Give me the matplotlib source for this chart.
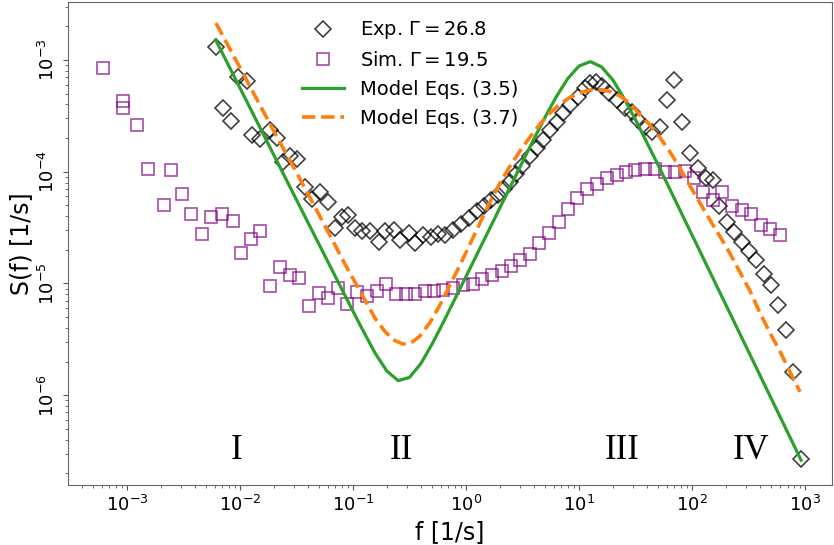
import matplotlib
matplotlib.use("Agg")
import matplotlib.pyplot as plt

# Experimental data (Gamma = 26.8)
exp_f = [6.10e-3, 7.11e-3, 8.32e-3, 9.66e-3, 1.16e-2, 1.29e-2, 1.51e-2, 1.84e-2, 2.11e-2, 2.38e-2,
         2.77e-2, 3.23e-2, 3.80e-2, 4.34e-2, 5.11e-2, 5.98e-2, 7.00e-2, 8.07e-2, 9.12e-2, 0.105,
         0.120, 0.141, 0.169, 0.192, 0.229, 0.261, 0.311, 0.357, 0.416, 0.495,
         0.565, 0.652, 0.767, 0.904, 1.06, 1.25, 1.43, 1.68, 1.92, 2.17,
         2.45, 2.77, 3.13, 3.68, 4.23, 4.83, 5.53, 6.35, 7.26, 8.32,
         9.86, 11.3, 12.5, 14.1, 16.0, 18.4, 21.7, 25.5, 29.4, 33.5,
         38.4, 44.0, 52.6, 59.7, 69.3, 81.6, 95.9, 114, 132, 152,
         173, 204, 235, 275, 319, 371, 430, 504, 581, 675,
         787, 918]
exp_S = [1.30e-3, 3.70e-4, 2.84e-4, 7.00e-4, 6.44e-4, 2.15e-4, 1.98e-4, 2.36e-4, 1.99e-4, 1.23e-4,
         1.37e-4, 1.30e-4, 7.34e-5, 5.73e-5, 6.58e-5, 5.30e-5, 3.16e-5, 3.95e-5, 4.09e-5, 3.16e-5,
         2.94e-5, 2.94e-5, 2.37e-5, 2.92e-5, 3.01e-5, 2.45e-5, 2.83e-5, 2.30e-5, 2.71e-5, 2.60e-5,
         2.77e-5, 2.71e-5, 3.01e-5, 3.40e-5, 3.83e-5, 4.45e-5, 4.88e-5, 5.58e-5, 6.18e-5, 7.00e-5,
         8.09e-5, 9.53e-5, 1.12e-4, 1.37e-4, 1.62e-4, 1.92e-4, 2.36e-4, 2.80e-4, 3.33e-4, 3.95e-4,
         4.67e-4, 5.58e-4, 6.22e-4, 6.35e-4, 5.85e-4, 5.07e-4, 4.38e-4, 3.72e-4, 3.42e-4, 2.90e-4,
         2.53e-4, 2.28e-4, 2.53e-4, 4.38e-4, 6.62e-4, 2.80e-4, 1.46e-4, 1.07e-4, 8.73e-5, 8.43e-5,
         4.88e-5, 3.51e-5, 2.90e-5, 2.36e-5, 1.95e-5, 1.62e-5, 1.21e-5, 9.62e-6, 6.41e-6, 3.80e-6,
         1.62e-6, 2.71e-7]

# Simulation data (Gamma = 19.5)
sim_f = [6.17e-4, 9.27e-4, 9.27e-4, 1.23e-3, 1.53e-3, 2.14e-3, 2.44e-3, 3.07e-3, 3.67e-3, 4.58e-3,
         5.51e-3, 6.97e-3, 8.61e-3, 1.03e-2, 1.25e-2, 1.51e-2, 1.84e-2, 2.24e-2, 2.77e-2, 3.33e-2,
         4.08e-2, 5.00e-2, 6.04e-2, 7.30e-2, 8.91e-2, 0.108, 0.132, 0.162, 0.196, 0.239,
         0.292, 0.352, 0.430, 0.521, 0.630, 0.773, 0.946, 1.15, 1.39, 1.71,
         2.07, 2.50, 3.03, 3.71, 4.47, 5.45, 6.62, 8.00, 9.70, 11.8,
         14.4, 17.6, 21.6, 26.1, 31.6, 38.4, 47.1, 57.7, 70.8, 86.1,
         104, 126, 152, 186, 228, 275, 335, 406, 493, 601]
sim_S = [8.43e-4, 4.30e-4, 3.70e-4, 2.64e-4, 1.06e-4, 5.04e-5, 1.03e-4, 6.28e-5, 4.16e-5, 2.75e-5,
         3.93e-5, 4.18e-5, 3.62e-5, 1.88e-5, 2.51e-5, 2.96e-5, 9.53e-6, 1.41e-5, 1.19e-5, 1.11e-5,
         6.31e-6, 8.15e-6, 7.36e-6, 9.04e-6, 6.54e-6, 8.38e-6, 7.76e-6, 8.55e-6, 9.82e-6, 8.04e-6,
         8.04e-6, 8.04e-6, 8.55e-6, 8.63e-6, 8.73e-6, 9.10e-6, 9.58e-6, 9.88e-6, 1.09e-5, 1.19e-5,
         1.29e-5, 1.43e-5, 1.62e-5, 1.85e-5, 2.28e-5, 2.83e-5, 3.53e-5, 4.63e-5, 5.87e-5, 7.00e-5,
         7.76e-5, 8.73e-5, 9.25e-5, 1.00e-4, 1.03e-4, 1.06e-4, 1.05e-4, 9.94e-5, 9.90e-5, 1.01e-4,
         8.73e-5, 6.62e-5, 5.55e-5, 6.62e-5, 4.90e-5, 4.51e-5, 4.14e-5, 3.31e-5, 3.05e-5, 2.74e-5]

# Model Eqs. (3.5)
m35_f = [6.10e-3, 3.16e-2, 0.100, 0.126, 0.158, 0.200, 0.251, 0.316, 0.398, 0.501,
         0.631, 1.00, 3.16, 3.98, 5.01, 6.31, 7.94, 10.0, 12.6, 15.8,
         20.0, 25.1, 31.6, 50.1, 923]
m35_S = [1.51e-3, 5.61e-5, 5.64e-6, 3.60e-6, 2.35e-6, 1.64e-6, 1.35e-6, 1.44e-6, 1.91e-6, 2.86e-6,
         4.50e-6, 1.15e-5, 1.22e-4, 1.95e-4, 3.07e-4, 4.70e-4, 6.79e-4, 8.82e-4, 9.66e-4, 8.68e-4,
         6.60e-4, 4.51e-4, 2.92e-4, 1.15e-4, 2.62e-7]

# Model Eqs. (3.7)
m37_f = [6.13e-3, 1.107e-2, 1.97e-2, 3.40e-2, 5.11e-2, 6.93e-2, 8.49e-2, 0.1041, 0.1277, 0.1566,
         0.1919, 0.2353, 0.2770, 0.3262, 0.3916, 0.4802, 0.5886, 0.7218, 0.8849, 1.085,
         1.330, 1.631, 2.000, 2.452, 3.006, 3.685, 4.518, 5.539, 6.791, 8.326,
         10.20, 12.51, 15.34, 18.81, 23.06, 28.27, 34.66, 42.49, 52.10, 63.88,
         78.32, 96.0, 117.7, 144.3, 176.9, 216.9, 265.9, 326.2, 399.8, 490.1,
         600.9, 736.7, 903.2]
m37_S = [2.14e-3, 7.04e-4, 2.36e-4, 8.60e-5, 3.97e-5, 2.21e-5, 1.49e-5, 1.03e-5, 7.10e-6, 4.90e-6,
         3.71e-6, 3.08e-6, 2.87e-6, 2.93e-6, 3.38e-6, 4.47e-6, 6.41e-6, 9.67e-6, 1.46e-5, 2.25e-5,
         3.47e-5, 5.36e-5, 7.92e-5, 1.12e-4, 1.53e-4, 2.04e-4, 2.67e-4, 3.35e-4, 4.04e-4, 4.62e-4,
         5.07e-4, 5.39e-4, 5.44e-4, 5.22e-4, 4.76e-4, 4.08e-4, 3.22e-4, 2.62e-4, 2.02e-4, 1.50e-4,
         1.07e-4, 7.45e-5, 5.24e-5, 3.69e-5, 2.63e-5, 1.85e-5, 1.26e-5, 8.55e-6, 5.43e-6, 3.60e-6,
         2.46e-6, 1.61e-6, 1.07e-6]

regions = ["I", "II", "III", "IV"]
region_f = [9.4e-3, 0.27, 24, 331]
region_S = 3.2e-7

x_ticks = [1e-3, 1e-2, 1e-1, 1e0, 1e1, 1e2, 1e3]
x_ticklabels = [r'$10^{-3}$', r'$10^{-2}$', r'$10^{-1}$', r'$10^{0}$', r'$10^{1}$', r'$10^{2}$', r'$10^{3}$']
y_ticks = [1e-6, 1e-5, 1e-4, 1e-3]
y_ticklabels = [r'$10^{-6}$', r'$10^{-5}$', r'$10^{-4}$', r'$10^{-3}$']

fig = plt.figure(figsize=(8.34, 5.45), dpi=100)
ax = fig.add_axes([68/834, 1-485/545, (832-68)/834, (485-2)/545])

ax.plot(exp_f, exp_S, linestyle='none', marker='D', markersize=8.5, markerfacecolor='none',
        markeredgecolor='black', markeredgewidth=1.2, alpha=0.75, label=r'Exp. $\Gamma = 26.8$')
ax.plot(sim_f, sim_S, linestyle='none', marker='s', markersize=8.5, markerfacecolor='none',
        markeredgecolor='purple', markeredgewidth=1.2, alpha=0.7, label=r'Sim. $\Gamma = 19.5$')
ax.plot(m35_f, m35_S, color='#2ca02c', lw=2.3, label='Model Eqs. (3.5)')
ax.plot(m37_f, m37_S, color='#ff7f0e', lw=2.6, linestyle='--', label='Model Eqs. (3.7)')

ax.set_xscale('log')
ax.set_yscale('log')
ax.set_xlim(3.01e-4, 1733)
ax.set_ylim(1.57e-7, 3.30e-3)
ax.set_xticks(x_ticks)
ax.set_xticklabels(x_ticklabels)
ax.set_yticks(y_ticks)
ax.set_yticklabels(y_ticklabels, rotation=90, va='center')

for name, fx in zip(regions, region_f):
    ax.text(fx, region_S, name, ha='center', va='center', fontsize=25,
            family=['Liberation Serif', 'DejaVu Serif'])

ax.set_xlabel('f [1/s]', fontsize=17)
ax.set_ylabel('S(f) [1/s]', fontsize=17)
ax.tick_params(axis='both', which='major', labelsize=13, color='#555555')
ax.tick_params(axis='both', which='minor', color='#555555')
for sp in ax.spines.values():
    sp.set_color('#666666')

leg = ax.legend(loc='upper left', bbox_to_anchor=(0.283, 1.0), frameon=False, fontsize=14,
                handlelength=2.2, numpoints=1)

fig.savefig('out.png', dpi=100)
